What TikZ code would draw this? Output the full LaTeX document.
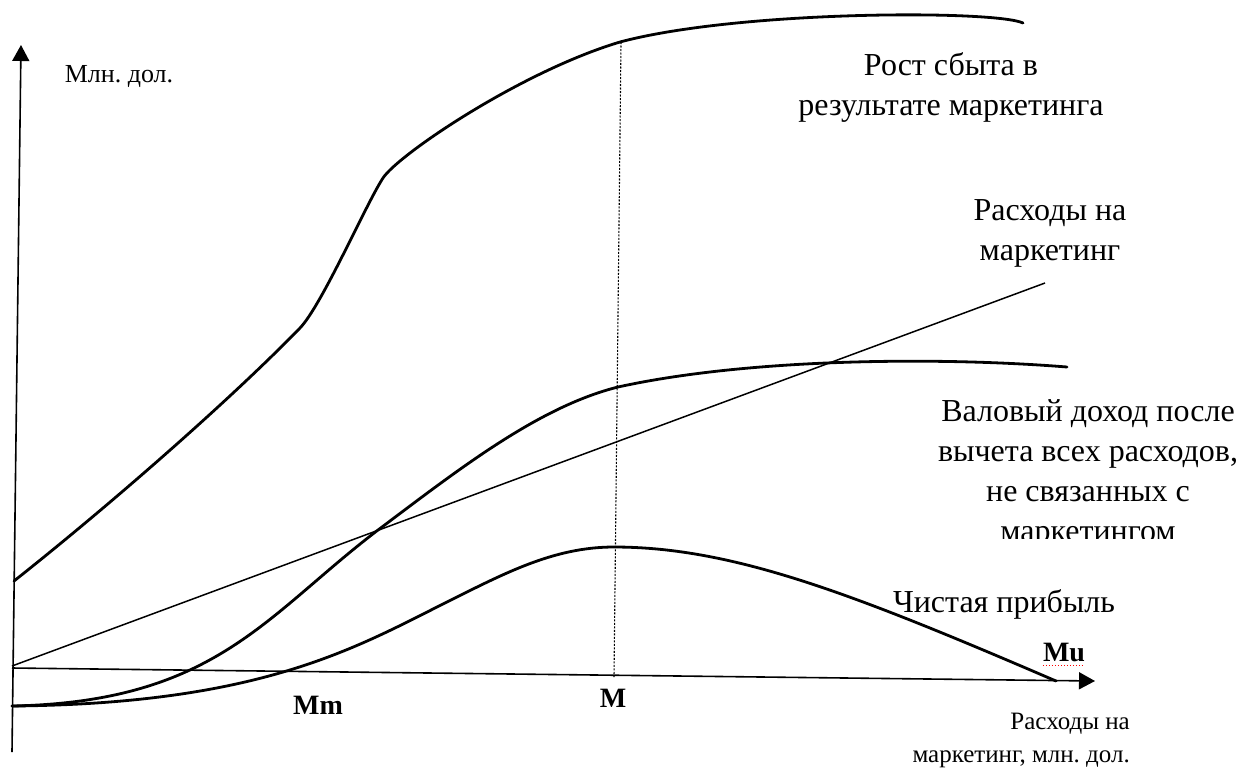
\documentclass[tikz,border=0pt]{standalone}
\usepackage{fontspec}
\setmainfont{Liberation Serif}
\usetikzlibrary{arrows.meta}
\frenchspacing
\begin{document}
\begin{tikzpicture}[x=1pt,y=-1pt,
  curve/.style={line width=2.8pt, line cap=round},
  axis/.style={line width=1.6pt, -{Triangle[length=16pt,width=17pt]}},
  costline/.style={line width=1.5pt},
  guide/.style={line width=1.1pt, dash pattern=on 2pt off 1.5pt},
  biglabel/.style={font=\fontsize{32}{40}\selectfont, align=center, inner sep=0pt},
  smalllabel/.style={font=\fontsize{26}{33}\selectfont, inner sep=0pt},
  mlabel/.style={font=\fontsize{28}{30}\selectfont\bfseries, inner sep=0pt}]
\useasboundingbox (0,0) rectangle (1257,769);
\fill[white] (0,0) rectangle (1257,769);

% axes
\coordinate (yb) at (12,752);
\coordinate (yt) at (21,45);
\coordinate (xl) at (12,668);
\coordinate (xr) at (1095,681);
\draw[axis] (yb) -- (yt);
\draw[axis] (xl) -- (xr);

% vertical guide at M
\coordinate (gtop) at (621,42);
\coordinate (gbot) at (614,677);
\draw[guide] (gtop) -- (gbot);

% marketing cost line
\coordinate (c0) at (12,666);
\coordinate (c1) at (1045,283);
\draw[costline] (c0) -- (c1);

% sales growth curve
\draw[curve] (14,581) .. controls (110,505) and (230,400) .. (300,328)
  .. controls (322,305) and (366,204) .. (383,178)
  .. controls (398,155) and (520,72) .. (620,42)
  .. controls (740,10) and (995,10) .. (1023,23);

% gross income curve
\draw[curve] (12,706) .. controls (215,702) and (265,616) .. (378,530)
  .. controls (458,470) and (538,407) .. (618,387)
  .. controls (748,358.4) and (937,356.6) .. (1067,367);

% net profit curve
\draw[curve] (12,706) .. controls (260,704) and (355,648) .. (445,603)
  .. controls (505,573) and (554,547) .. (614,547)
  .. controls (734,547) and (856,595) .. (1056,681);

% labels
\node[smalllabel] (ylab) at (119,76) {Млн. дол.};
\node[biglabel] (sales) at (951,87) {Рост сбыта в\\результате маркетинга};
\node[biglabel] (cost) at (1050,233) {Расходы на\\маркетинг};
\begin{scope}
\clip (900,380) rectangle (1257,538);
\node[biglabel] (gross) at (1088,474) {Валовый доход после\\вычета всех расходов,\\не связанных с\\маркетингом};
\end{scope}
\node[biglabel] (net) at (1004,604) {Чистая прибыль};
\node[mlabel] (mm) at (318,705) {Mm};
\node[mlabel] (m) at (613,698) {M};
\node[mlabel] (mu) at (1064,652) {Mu};
\draw[red, line width=1.2pt, dash pattern=on 1.5pt off 1.5pt] (mu.south west) ++(0,4) -- ++(42,0);
\node[font=\fontsize{25}{33}\selectfont, inner sep=0pt, align=right, anchor=east] (xlab) at (1130,740) {Расходы на\\маркетинг, млн. дол.};
\end{tikzpicture}
\end{document}
